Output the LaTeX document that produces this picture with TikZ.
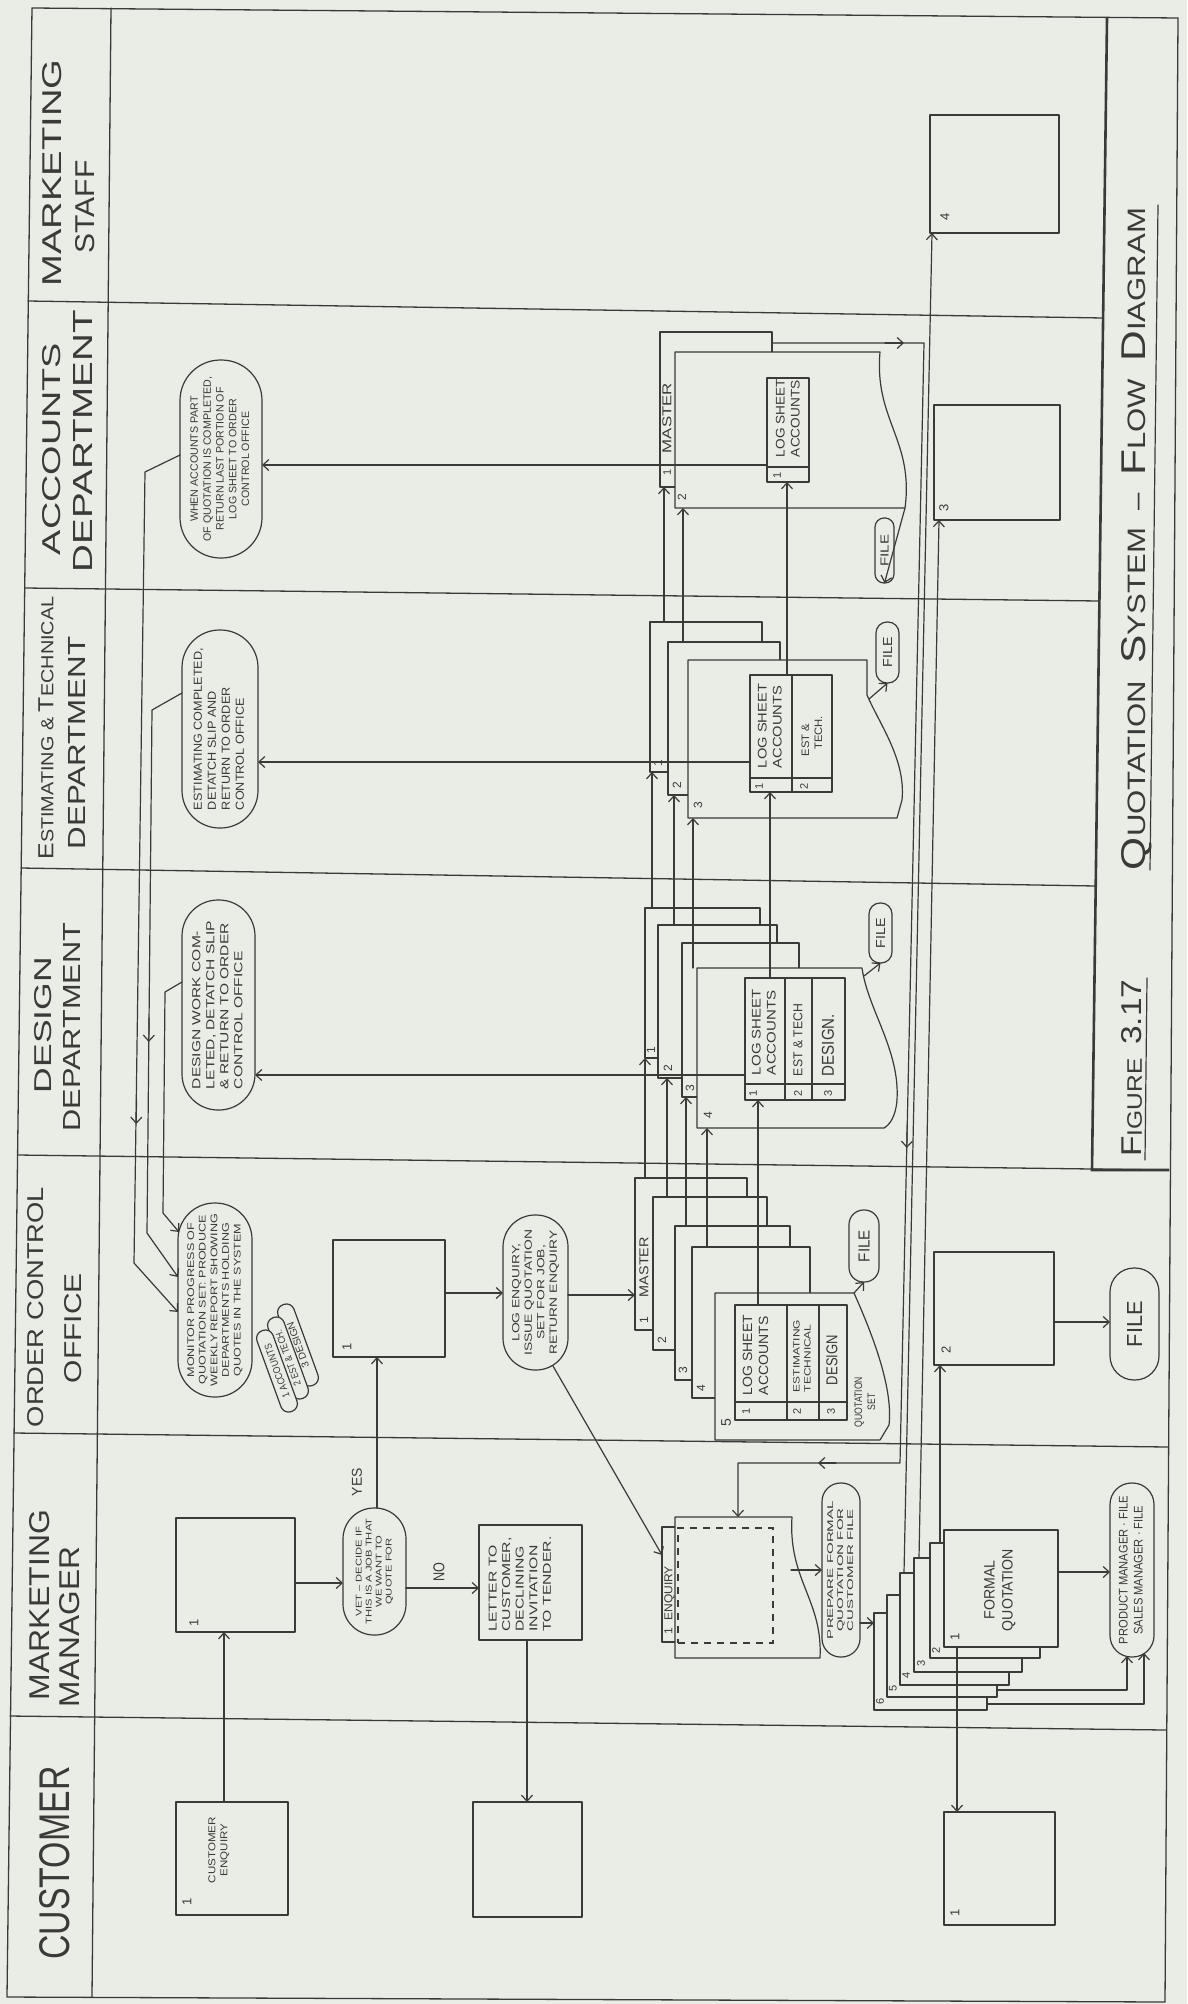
\documentclass[tikz,border=0pt]{standalone}
\usepackage{fontspec}
\setmainfont{Liberation Sans}
\usepackage{graphicx}
\usetikzlibrary{arrows.meta}
\definecolor{ink}{RGB}{58,58,56}
\definecolor{paper}{RGB}{234,236,230}
\newcommand{\rt}[1]{\rotatebox{90}{#1}}
\newcommand{\fitt}[3]{\resizebox{#1pt}{#2pt}{#3}}
\newcommand{\blk}[3]{\resizebox*{#1pt}{#2pt}{\begin{tabular}{@{}c@{}}#3\end{tabular}}}
\newcommand{\blkl}[3]{\resizebox*{#1pt}{#2pt}{\begin{tabular}{@{}l@{}}#3\end{tabular}}}
\newcommand{\lab}[1]{\rt{\fontsize{13}{13}\selectfont #1}}
\newcommand{\bigc}[1]{{\fontsize{30}{30}\selectfont #1}}
\tikzset{
  ln/.style={draw=ink, line width=1.2pt, line join=round, line cap=round},
  arr/.style={ln, -{Straight Barb[length=6pt,width=11pt]}},
  frm/.style={draw=ink, line width=1.3pt, line cap=round},
  t/.style={inner sep=0pt, outer sep=0pt, text=ink},
  boxn/.style={ln, fill=paper, rectangle, inner sep=0pt, outer sep=0pt, text=ink},
  bub/.style={ln, fill=paper, rectangle, inner sep=0pt, outer sep=0pt, text=ink},
  dsh/.style={draw=ink, line width=1.2pt, dash pattern=on 7pt off 6pt, rectangle, inner sep=0pt},
}
\begin{document}
\begin{tikzpicture}[x=1pt,y=-1pt]
\fill[paper] (0,0) rectangle (1187,2004);
\useasboundingbox (0,0) rectangle (1187,2004);
% ---------- frame and lanes (scan is slightly tilted)
\draw[frm] (32,8) -- (1178,18) -- (1165,2002) -- (7,1997) -- cycle;
\draw[frm] (111,8) -- (92,1997);
\draw[frm] (28,301) -- (1103,318);
\draw[frm] (25,588) -- (1099,601);
\draw[frm] (21,868) -- (1096,886);
\draw[frm] (18,1155) -- (1169,1170);
\draw[frm] (14,1433) -- (1168,1447);
\draw[frm] (10,1716) -- (1166,1730);
\draw[draw=ink, line width=2.6pt] (1107,18) -- (1092,1170) -- (1169,1170);
% ---------- headers
\node[t] (hMS1) at (52,173) {\rt{\fitt{227}{19}{MARKETING}}};
\node[t] (hMS2) at (85,207) {\rt{\fitt{93}{19}{STAFF}}};
\node[t] (hAC1) at (52,449) {\rt{\fitt{212}{18}{ACCOUNTS}}};
\node[t] (hAC2) at (83,441) {\rt{\fitt{262}{19}{DEPARTMENT}}};
\node[t] (hES1) at (46,728) {\rt{\fitt{263}{15}{\fontsize{12}{12}\selectfont{\fontsize{15}{15}\selectfont E}STIMATING \& {\fontsize{15}{15}\selectfont T}ECHNICAL}}};
\node[t] (hES2) at (77,743) {\rt{\fitt{213}{17}{DEPARTMENT}}};
\node[t] (hDE1) at (43,1025) {\rt{\fitt{136}{17}{DESIGN}}};
\node[t] (hDE2) at (72,1027) {\rt{\fitt{209}{17}{DEPARTMENT}}};
\node[t] (hOC1) at (36,1307) {\rt{\fitt{240}{16}{ORDER CONTROL}}};
\node[t] (hOC2) at (73,1328) {\rt{\fitt{110}{17}{OFFICE}}};
\node[t] (hMM1) at (40,1605) {\rt{\fitt{190}{20}{MARKETING}}};
\node[t] (hMM2) at (70,1627) {\rt{\fitt{160}{20}{MANAGER}}};
\node[t] (hCU) at (55,1863) {\rt{\fitt{193}{30}{CUSTOMER}}};
% ---------- title
\node[t] (title) at (1137,539) {\rt{\fitt{662}{24}{\fontsize{22}{22}\selectfont\bigc{Q}UOTATION\ \ \bigc{S}YSTEM\ \ --\ \ \bigc{F}LOW\ \ \bigc{D}IAGRAM}}};
\draw[ln] (1158,205) -- (1150,870);
\node[t] (fig) at (1132,1068) {\rt{\fitt{177}{20}{\fontsize{22}{22}\selectfont\bigc{F}IGURE\ \ \bigc{3.17}}}};
\draw[ln] (1147,978) -- (1145,1160);
% ---------- simple boxes
\node[boxn, minimum width=112pt, minimum height=113pt] (custEnq) at (232,1858.5) {};
\node[boxn, minimum width=109pt, minimum height=115pt] (custLet) at (527.5,1859.5) {};
\node[boxn, minimum width=111pt, minimum height=113pt] (custQuo) at (999.5,1868.5) {};
\node[boxn, minimum width=119pt, minimum height=114pt] (mmBox) at (235.5,1575) {};
\node[boxn, minimum width=103pt, minimum height=115pt] (letterB) at (530.5,1582.5) {};
\node[boxn, minimum width=112pt, minimum height=117pt] (ocoBox) at (389,1298.5) {};
\node[boxn, minimum width=120pt, minimum height=113pt] (box2) at (994,1308.5) {};
\node[boxn, minimum width=126pt, minimum height=115pt] (box3) at (997,462.5) {};
\node[boxn, minimum width=129pt, minimum height=118pt] (box4) at (994.5,174) {};
\node[t] (custEnqT) at (219,1850) {\rt{\blk{66}{24}{CUSTOMER\\ENQUIRY}}};
\node[t] (letterT) at (521,1584) {\rt{\blkl{95}{68}{LETTER TO\\CUSTOMER,\\DECLINING\\INVITATION\\TO TENDER.}}};
\node[t] (lb1) at (187,1902) {\lab{1}};
\node[t] (lb2) at (194,1623) {\lab{1}};
\node[t] (lb3) at (955,1913) {\lab{1}};
\node[t] (lb4) at (347,1347) {\lab{1}};
\node[t] (lb5) at (946,1350) {\lab{2}};
\node[t] (lb6) at (944,508) {\lab{3}};
\node[t] (lb7) at (945,217) {\lab{4}};
% ---------- bubbles
\node[bub, rounded corners=40.5pt, minimum width=82pt, minimum height=198pt] (accB) at (221,459) {\rt{\blk{165}{64}{WHEN ACCOUNTS PART\\OF QUOTATION IS COMPLETED,\\RETURN LAST PORTION OF\\LOG SHEET TO ORDER\\CONTROL OFFICE}}};
\node[bub, rounded corners=37.5pt, minimum width=76pt, minimum height=198pt] (estB) at (220,729) {\rt{\blkl{162}{56}{ESTIMATING COMPLETED,\\DETATCH SLIP AND\\RETURN TO ORDER\\CONTROL OFFICE}}};
\node[bub, rounded corners=36pt, minimum width=73pt, minimum height=210pt] (desB) at (218.5,1005) {\rt{\blkl{168}{56}{DESIGN WORK COM-\\LETED, DETATCH SLIP\\\& RETURN TO ORDER\\CONTROL OFFICE}}};
\node[bub, rounded corners=36.5pt, minimum width=74pt, minimum height=194pt] (monB) at (215,1300) {\rt{\blk{172}{58}{MONITOR PROGRESS OF\\QUOTATION SET: PRODUCE\\WEEKLY REPORT SHOWING\\DEPARTMENTS HOLDING\\QUOTES IN THE SYSTEM}}};
\node[bub, rounded corners=32pt, minimum width=65pt, minimum height=155pt] (logB) at (535.5,1292.5) {\rt{\blk{126}{50}{LOG ENQUIRY,\\ISSUE QUOTATION\\SET FOR JOB,\\RETURN ENQUIRY}}};
\node[bub, rounded corners=31pt, minimum width=63pt, minimum height=127pt] (vetB) at (374.5,1571.5) {\rt{\blk{106}{40}{VET -- DECIDE IF\\THIS IS A JOB THAT\\WE WANT TO\\QUOTE FOR}}};
\node[bub, rounded corners=18.5pt, minimum width=38pt, minimum height=174pt] (prepB) at (841,1570) {\rt{\blk{138}{30}{PREPARE FORMAL\\QUOTATION FOR\\CUSTOMER FILE}}};
\node[bub, rounded corners=21.5pt, minimum width=44pt, minimum height=174pt] (pmB) at (1132,1570) {\rt{\blk{148}{30}{PRODUCT MANAGER · FILE\\SALES MANAGER · FILE}}};
\node[bub, rounded corners=24pt, minimum width=49pt, minimum height=112pt] (fileO) at (1134.5,1324) {\rt{\fitt{46}{15}{FILE}}};
\node[bub, rounded corners=14.5pt, minimum width=30pt, minimum height=72pt] (fileS) at (864,1246) {\rt{\fitt{32}{11}{FILE}}};
\node[bub, rounded corners=11pt, minimum width=23pt, minimum height=60pt] (fileD) at (880.5,933) {\rt{\fitt{30}{9}{FILE}}};
\node[bub, rounded corners=11pt, minimum width=23pt, minimum height=61pt] (fileE) at (887.5,652.5) {\rt{\fitt{30}{9}{FILE}}};
\node[bub, rounded corners=9pt, minimum width=19pt, minimum height=65pt] (fileA) at (884.5,550.5) {\rt{\fitt{32}{8}{FILE}}};
% report ovals
\node[bub, rounded corners=8pt, minimum width=86pt, minimum height=17pt, rotate=110] (rep3) at (298,1345) {\fitt{48}{7}{3 DESIGN}};
\node[bub, rounded corners=8pt, minimum width=86pt, minimum height=17pt, rotate=110] (rep2) at (288,1358) {\fitt{58}{7}{2 EST \& TECH.}};
\node[bub, rounded corners=8pt, minimum width=86pt, minimum height=17pt, rotate=110] (rep1) at (277,1371) {\fitt{56}{7}{1 ACCOUNTS}};
% ---------- accounts stack
\node[boxn, minimum width=112pt, minimum height=155pt] (A1) at (716,409.5) {};
\draw[ln, fill=paper] (675,352) coordinate (A2tl) -- (880,352) .. controls (874,420) and (914,440) .. (905,508) coordinate (A2br) -- (675,508) -- cycle;
\node[boxn, minimum width=42pt, minimum height=104pt] (tA) at (788,430) {};
\draw[ln] (767,467) -- (809,467);
\node[t] (tAt) at (789,418) {\rt{\blkl{78}{30}{LOG SHEET\\ACCOUNTS}}};
\node[t] (tAn) at (777,475) {\rt{\fontsize{11}{11}\selectfont 1}};
\node[t] (A1m) at (667,418) {\rt{\fitt{70}{9}{MASTER}}};
\node[t] (A1n) at (667,472) {\rt{\fontsize{11}{11}\selectfont 1}};
\node[t] (A2n) at (682,497) {\rt{\fontsize{12}{12}\selectfont 2}};
% ---------- estimating stack
\node[boxn, minimum width=112pt, minimum height=150pt] (E1) at (706,697) {};
\node[boxn, minimum width=112pt, minimum height=153pt] (E2) at (724,718.5) {};
\draw[ln, fill=paper] (688,660) -- (867,660) -- (867,695) .. controls (880,725) and (906,760) .. (902,800) -- (897,818) coordinate (E3br) -- (688,818) -- cycle;
\node[boxn, minimum width=82pt, minimum height=117pt] (tE) at (791,733.5) {};
\draw[ln] (792,675) -- (792,792);
\draw[ln] (750,778) -- (832,778);
\node[t] (tEt1) at (771,726) {\rt{\blkl{84}{30}{LOG SHEET\\ACCOUNTS}}};
\node[t] (tEt2) at (813,736) {\rt{\blkl{40}{26}{EST \&\\\ \ TECH.}}};
\node[t] (tEn1) at (759,786) {\rt{\fontsize{11}{11}\selectfont 1}};
\node[t] (tEn2) at (804,786) {\rt{\fontsize{11}{11}\selectfont 2}};
\node[t] (E1n) at (658,763) {\rt{\fontsize{12}{12}\selectfont 1}};
\node[t] (E2n) at (677,785) {\rt{\fontsize{12}{12}\selectfont 2}};
\node[t] (E3n) at (698,805) {\rt{\fontsize{12}{12}\selectfont 3}};
% ---------- design stack
\node[boxn, minimum width=115pt, minimum height=150pt] (D1) at (702.5,983) {};
\node[boxn, minimum width=119pt, minimum height=153pt] (D2) at (717.5,1001.5) {};
\node[boxn, minimum width=117pt, minimum height=154pt] (D3) at (740.5,1020) {};
\draw[ln, fill=paper] (697,968) -- (862,968) .. controls (868,1010) and (900,1050) .. (897,1100) .. controls (896,1115) and (890,1125) .. (884,1128) -- (697,1128) -- cycle;
\node[boxn, minimum width=100pt, minimum height=122pt] (tD) at (795,1039) {};
\draw[ln] (785,978) -- (785,1100);
\draw[ln] (812,978) -- (812,1100);
\draw[ln] (745,1084) -- (845,1084);
\node[t] (tDt1) at (765,1032) {\rt{\blkl{86}{30}{LOG SHEET\\ACCOUNTS}}};
\node[t] (tDt2) at (798,1040) {\rt{\fitt{72}{9}{EST \& TECH}}};
\node[t] (tDt3) at (828,1045) {\rt{\fitt{62}{12}{DESIGN.}}};
\node[t] (tDn1) at (753,1093) {\rt{\fontsize{11}{11}\selectfont 1}};
\node[t] (tDn2) at (798,1093) {\rt{\fontsize{11}{11}\selectfont 2}};
\node[t] (tDn3) at (828,1093) {\rt{\fontsize{11}{11}\selectfont 3}};
\node[t] (D1n) at (651,1050) {\rt{\fontsize{12}{12}\selectfont 1}};
\node[t] (D2n) at (668,1068) {\rt{\fontsize{12}{12}\selectfont 2}};
\node[t] (D3n) at (690,1088) {\rt{\fontsize{12}{12}\selectfont 3}};
\node[t] (D4n) at (708,1115) {\rt{\fontsize{12}{12}\selectfont 4}};
% ---------- order control quotation set
\node[boxn, minimum width=112pt, minimum height=152pt] (O1) at (691,1254) {};
\node[boxn, minimum width=114pt, minimum height=153pt] (O2) at (710,1273.5) {};
\node[boxn, minimum width=115pt, minimum height=154pt] (O3) at (732.5,1303) {};
\node[boxn, minimum width=118pt, minimum height=151pt] (O4) at (751,1322.5) {};
\draw[ln, fill=paper] (715,1293) -- (854,1293) coordinate (O5tr) .. controls (875,1340) and (893,1390) .. (889,1425) -- (880,1440) -- (715,1440) -- cycle;
\node[boxn, minimum width=112pt, minimum height=115pt] (tO) at (791,1362.5) {};
\draw[ln] (787,1305) -- (787,1420);
\draw[ln] (819,1305) -- (819,1420);
\draw[ln] (735,1402) -- (847,1402);
\node[t] (tOt1) at (757,1355) {\rt{\blkl{80}{32}{LOG SHEET\\ACCOUNTS}}};
\node[t] (tOt2) at (803,1356) {\rt{\blkl{72}{22}{ESTIMATING\\TECHNICAL}}};
\node[t] (tOt3) at (832,1360) {\rt{\fitt{50}{11}{DESIGN}}};
\node[t] (tOn1) at (746,1411) {\rt{\fontsize{11}{11}\selectfont 1}};
\node[t] (tOn2) at (797,1411) {\rt{\fontsize{11}{11}\selectfont 2}};
\node[t] (tOn3) at (831,1411) {\rt{\fontsize{11}{11}\selectfont 3}};
\node[t] (O1m) at (644,1267) {\rt{\fitt{60}{9}{MASTER}}};
\node[t] (O1n) at (644,1320) {\rt{\fontsize{12}{12}\selectfont 1}};
\node[t] (O2n) at (662,1340) {\rt{\fontsize{12}{12}\selectfont 2}};
\node[t] (O3n) at (683,1370) {\rt{\fontsize{12}{12}\selectfont 3}};
\node[t] (O4n) at (701,1388) {\rt{\fontsize{12}{12}\selectfont 4}};
\node[t] (O5n) at (726,1423) {\rt{\fontsize{14}{14}\selectfont 5}};
\node[t] (qset) at (866,1402) {\rt{\blk{50}{26}{QUOTATION\\SET}}};
% ---------- enquiry document
\node[boxn, minimum width=15pt, minimum height=115pt] (enqTab) at (669.5,1584.5) {};
\draw[ln, fill=paper] (675,1517) -- (792,1517) .. controls (788,1580) and (823,1600) .. (820,1658) -- (675,1658) -- cycle;
\node[dsh, minimum width=95pt, minimum height=115pt] (enqDash) at (725.5,1585.5) {};
\node[t] (enqT) at (669.5,1600) {\rt{\fitt{68}{8}{1\ \ ENQUIRY}}};
% ---------- formal quotation stack
\node[boxn, minimum width=113pt, minimum height=97pt] (F6) at (930.5,1661.5) {};
\node[boxn, minimum width=110pt, minimum height=102pt] (F5) at (942,1646) {};
\node[boxn, minimum width=109pt, minimum height=112pt] (F4) at (954.5,1629) {};
\node[boxn, minimum width=108pt, minimum height=114pt] (F3) at (968,1615) {};
\node[boxn, minimum width=110pt, minimum height=115pt] (F2) at (985,1600.5) {};
\node[boxn, minimum width=114pt, minimum height=117pt] (F1) at (1001,1588.5) {};
\node[t] (F1t) at (1000,1590) {\rt{\blk{82}{36}{FORMAL\\QUOTATION}}};
\node[t] (F1n) at (955,1637) {\lab{1}};
\node[t] (F2n) at (936,1650) {\rt{\fontsize{11}{11}\selectfont 2}};
\node[t] (F3n) at (921,1663) {\rt{\fontsize{11}{11}\selectfont 3}};
\node[t] (F4n) at (906,1675) {\rt{\fontsize{11}{11}\selectfont 4}};
\node[t] (F5n) at (893,1688) {\rt{\fontsize{11}{11}\selectfont 5}};
\node[t] (F6n) at (880,1701) {\rt{\fontsize{11}{11}\selectfont 6}};
% ---------- connectors
\draw[arr] ([xshift=-8pt]custEnq.north) -- ([xshift=-8pt]custEnq.north |- mmBox.south);
\draw[arr] (mmBox.east |- 0,1583) -- (vetB.west |- 0,1583);
\draw[arr] (377,1508) -- (ocoBox.south -| 377,0);
\node[t] (yes) at (357,1482) {\rt{\fitt{28}{10}{YES}}};
\draw[arr] (vetB.east |- 0,1588) -- (letterB.west |- 0,1588);
\node[t] (no) at (439,1572) {\rt{\fitt{19}{11}{NO}}};
\draw[arr] (letterB.south -| 527,0) -- (custLet.north -| 527,0);
\draw[arr] (ocoBox.east |- 0,1293) -- (logB.west |- 0,1293);
\draw[arr] (logB.east |- 0,1295) -- (O1.west |- 0,1295);
\draw[arr] (553,1366) -- (enqTab.west |- 0,1555);
% set to design
\draw[arr] (O1.north -| 645,0) -- (D1.south -| 645,0);
\draw[arr] (O2.north -| 667,0) -- (D2.south -| 667,0);
\draw[arr] (O3.north -| 686,0) -- (D3.south -| 686,0);
\draw[arr] (O4.north -| 707,0) -- (707,1128);
\draw[arr] (tO.north -| 758,0) -- (tD.south -| 758,0);
% design to estimating
\draw[arr] (D1.north -| 652,0) -- (E1.south -| 652,0);
\draw[arr] (D2.north -| 674,0) -- (E2.south -| 674,0);
\draw[arr] (693,968) -- (693,818);
\draw[arr] (tD.north -| 770,0) -- (tE.south -| 770,0);
% estimating to accounts
\draw[arr] (E1.north -| 664,0) -- (A1.south -| 664,0);
\draw[arr] (E2.north -| 683,0) -- (683,508);
\draw[arr] (tE.north -| 787,0) -- (tA.south -| 787,0);
% slips back to bubbles
\draw[arr] (tA.west |- 0,465) -- (accB.east |- 0,465);
\draw[arr] (tE.west |- 0,762) -- (estB.east |- 0,762);
\draw[arr] (tD.west |- 0,1075) -- (desB.east |- 0,1075);
% bubbles to monitor
\draw[arr] (accB.west |- 0,455) -- (145,472) -- (134,1263) -- (monB.west |- 0,1312);
\draw[arr] (estB.west |- 0,693) -- (152,710) -- (147,1233) -- (monB.west |- 0,1277);
\draw[arr] (desB.west |- 0,982) -- (165,992) -- (163,1213) -- (179,1232);
\draw[arr] (136.5,1100) -- (136.2,1124);
\draw[arr] (149,1018) -- (148.8,1042);
% files
\draw[arr] (A2br) -- (fileA.south);
\draw[arr] (869,699) -- (fileE.south);
\draw[arr] (864,976) -- (fileD.south);
\draw[arr] (O5tr) -- (fileS.south);
% master return
\draw[arr] (A1.east |- 0,343) -- (924,343) -- (900,1463) -- (738,1463) -- (738,1517);
\draw[arr] (885,343) -- (904,343);
\draw[arr] (907.2,1125) -- (906.8,1148);
\draw[arr] (836,1463) -- (818,1463);
% enquiry to prepare, prepare to formal quotation
\draw[arr] (791,1570) -- (prepB.west);
\draw[arr] (prepB.east |- 0,1623) -- (F6.west |- 0,1623);
% formal quotation copies
\draw[arr] (F4.north -| 904,0) -- (932,233);
\draw[arr] (F3.north -| 919,0) -- (939,520);
\draw[arr] (F2.north -| 940,0) -- (box2.south -| 940,0);
\draw[arr] (box2.east |- 0,1322) -- (fileO.west |- 0,1322);
\draw[arr] (F1.south -| 957,0) -- (custQuo.north -| 957,0);
\draw[arr] (F1.east |- 0,1572) -- (pmB.west |- 0,1572);
\draw[arr] (F5.east |- 0,1690) -- (1127,1690) -- (1127,1656);
\draw[arr] (F6.east |- 0,1704) -- (1144,1704) -- (1144,1653);
\end{tikzpicture}
\end{document}
